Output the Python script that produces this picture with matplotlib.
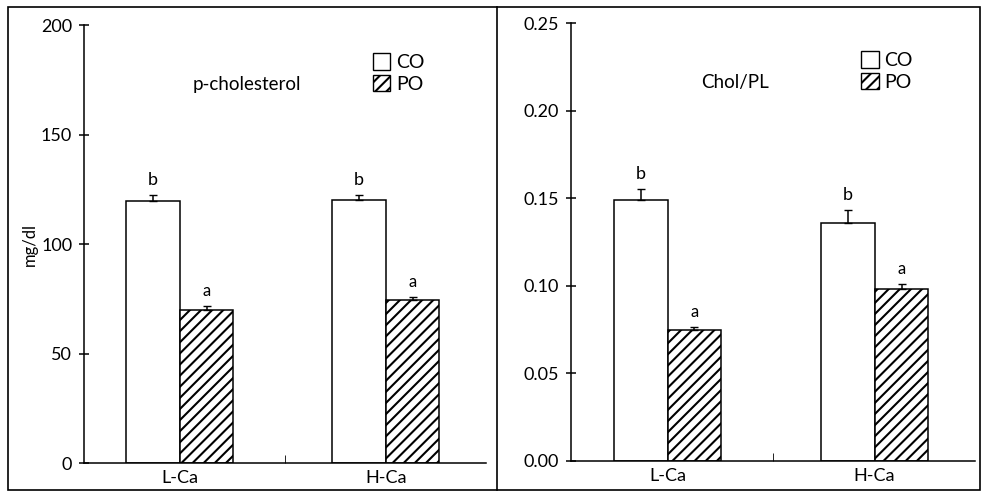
import matplotlib
matplotlib.use("Agg")
import matplotlib.pyplot as plt
from matplotlib.patches import Patch, Rectangle
from matplotlib.lines import Line2D

plt.rcParams['font.family'] = ['Lato', 'DejaVu Sans']
plt.rcParams['hatch.linewidth'] = 1.5

groups = ["L-Ca", "H-Ca"]
series = ["CO", "PO"]

# p-cholesterol (mg/dl)
chol_co = [119.6, 120.0]
chol_co_err = [2.8, 2.4]
chol_po = [69.9, 74.4]
chol_po_err = [1.8, 1.4]
chol_co_lab = ["b", "b"]
chol_po_lab = ["a", "a"]

# Chol/PL
ratio_co = [0.149, 0.136]
ratio_co_err = [0.006, 0.007]
ratio_po = [0.0748, 0.098]
ratio_po_err = [0.0017, 0.0028]
ratio_co_lab = ["b", "b"]
ratio_po_lab = ["a", "a"]

fig = plt.figure(figsize=(9.82, 4.96), dpi=100)
ax1 = fig.add_axes([0.0855, 0.0665, 0.409, 0.883])
ax2 = fig.add_axes([0.5815, 0.0706, 0.4114, 0.883])

w = 0.26
x = [0, 1]


def draw(ax, co, co_err, po, po_err, co_lab, po_lab, ymax, yticks, ylabs, title, off):
    xc = [i - w / 2 for i in x]
    xp = [i + w / 2 for i in x]
    ax.bar(xc, co, w, color="white", edgecolor="black", linewidth=1.1, label="CO")
    ax.bar(xp, po, w, color="white", edgecolor="black", linewidth=1.1, hatch="///", label="PO")
    ax.errorbar(xc, co, yerr=[[0, 0], co_err], fmt="none", ecolor="black", elinewidth=1.1, capsize=3)
    ax.errorbar(xp, po, yerr=[[0, 0], po_err], fmt="none", ecolor="black", elinewidth=1.1, capsize=3)
    for i in range(2):
        ax.text(xc[i], co[i] + co_err[i] + off, co_lab[i], ha="center", va="bottom", fontsize=13)
        ax.text(xp[i], po[i] + po_err[i] + off, po_lab[i], ha="center", va="bottom", fontsize=12)
    ax.set_xlim(-0.466, 1.485)
    ax.set_ylim(0, ymax)
    ax.set_yticks(yticks)
    ax.set_yticklabels(ylabs, fontsize=13)
    ax.set_xticks(x)
    ax.set_xticklabels(groups, fontsize=13)
    ax.set_xticks([0.51], minor=True)
    ax.tick_params(axis="x", which="major", length=0, pad=5)
    ax.tick_params(axis="x", which="minor", direction="in", length=6)
    ax.tick_params(axis="y", direction="inout", length=7, width=1.1, pad=5)
    for s in ["top", "right"]:
        ax.spines[s].set_visible(False)
    for s in ["left", "bottom"]:
        ax.spines[s].set_linewidth(1.1)
    ax.text(0.405, 0.865, title, transform=ax.transAxes, ha="center", va="center", fontsize=13.5)
    handles = [Patch(facecolor="white", edgecolor="black", label="CO"),
               Patch(facecolor="white", edgecolor="black", hatch="///", label="PO")]
    ax.legend(handles=handles, loc="upper left", bbox_to_anchor=(0.675, 0.975), frameon=False,
              handlelength=0.9, handleheight=0.9, handletextpad=0.3, labelspacing=0.2, fontsize=14)


draw(ax1, chol_co, chol_co_err, chol_po, chol_po_err, chol_co_lab, chol_po_lab,
     200, [0, 50, 100, 150, 200], ["0", "50", "100", "150", "200"], "p-cholesterol", 3)
ax1.set_ylabel("mg/dl", fontsize=12, labelpad=2)

draw(ax2, ratio_co, ratio_co_err, ratio_po, ratio_po_err, ratio_co_lab, ratio_po_lab,
     0.25, [0, 0.05, 0.10, 0.15, 0.20, 0.25], ["0.00", "0.05", "0.10", "0.15", "0.20", "0.25"],
     "Chol/PL", 0.004)

# panel frames
fig.add_artist(Rectangle((0.008, 0.012), 0.99, 0.974, transform=fig.transFigure,
                         fill=False, edgecolor="black", linewidth=1.2))
fig.add_artist(Line2D([0.506, 0.506], [0.012, 0.986], transform=fig.transFigure,
                      color="black", linewidth=1.2))

fig.savefig("out.png", dpi=100)
